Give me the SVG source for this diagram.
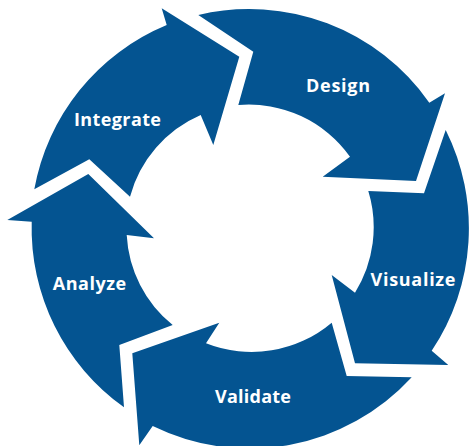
<svg xmlns="http://www.w3.org/2000/svg" width="469" height="446" viewBox="0 0 469 446">
<style>
.seg{fill:#045491;stroke:none}
.lbl{font-family:"Open Sans","Liberation Sans",Arial,sans-serif;font-weight:700;font-size:18px;fill:#ffffff;text-anchor:middle}
</style>
<rect width="469" height="446" fill="#ffffff"/>
<g id="design">
<path class="seg" d="M 198.3 15 A 220 220 0 0 1 429.3 102.7 L 445 93.3 L 416 181 L 322.7 176.7 L 350 156.7 A 124 124 0 0 0 238.3 105 L 253.3 51.7 Z"/>
<text class="lbl" x="338" y="92" textLength="64" lengthAdjust="spacing">Design</text>
</g>
<g id="visualize">
<path class="seg" d="M 445.7 130 A 220 220 0 0 1 431.7 350.7 L 448.3 365 L 355 363.3 L 331.7 275 L 355 292.7 A 124 124 0 0 0 368.3 191 L 424 193.3 Z"/>
<text class="lbl" x="413" y="286" textLength="85" lengthAdjust="spacing">Visualize</text>
</g>
<g id="validate">
<path class="seg" d="M 411.7 377.3 A 220 220 0 0 1 152.7 426 L 139.3 445.3 L 132.3 353.3 L 219.3 322.7 L 206 343.3 A 124 124 0 0 0 331.7 322.7 L 346.7 376 Z"/>
<text class="lbl" x="253" y="402.5" textLength="76" lengthAdjust="spacing">Validate</text>
</g>
<g id="analyze">
<path class="seg" d="M 124 407.3 A 220 220 0 0 1 31.7 221.7 L 7.3 220 L 88.3 174 L 154 238.3 L 126.7 235 A 124 124 0 0 0 172.7 325 L 119.3 345 Z"/>
<text class="lbl" x="89.5" y="290" textLength="73.5" lengthAdjust="spacing">Analyze</text>
</g>
<g id="integrate">
<path class="seg" d="M 34.3 189.3 A 220 220 0 0 1 166.7 25 L 161.7 8.3 L 239.3 56.7 L 213.3 145 L 200.7 115 A 124 124 0 0 0 130 196.7 L 89.3 159.3 Z"/>
<text class="lbl" x="117.5" y="126" textLength="87" lengthAdjust="spacing">Integrate</text>
</g>
</svg>
